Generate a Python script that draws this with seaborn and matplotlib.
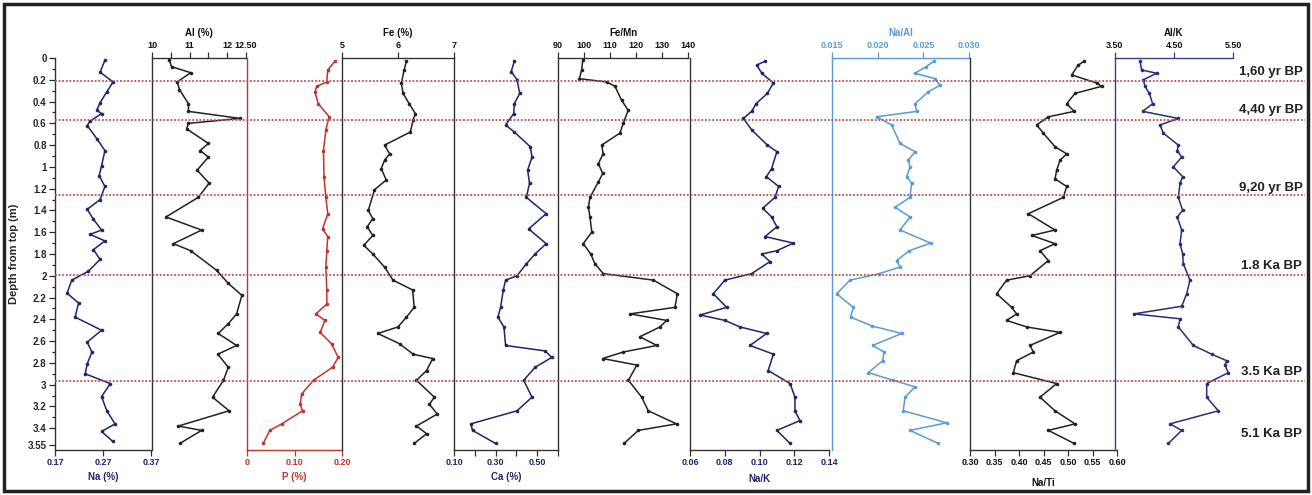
import matplotlib
matplotlib.use("Agg")
import matplotlib.pyplot as plt
from matplotlib.patches import Rectangle
import seaborn as sns

# depth (m) and values
na_depth = [0.02, 0.13, 0.22, 0.31, 0.41, 0.48, 0.51, 0.58, 0.62, 0.74, 0.85, 0.99, 1.08, 1.18, 1.30, 1.39,
            1.48, 1.58, 1.62, 1.68, 1.76, 1.85, 1.96, 2.04, 2.16, 2.25, 2.38, 2.50, 2.61, 2.70, 2.81, 2.90,
            2.99, 3.11, 3.24, 3.36, 3.43, 3.52]
na_pct = [0.274, 0.264, 0.291, 0.278, 0.264, 0.257, 0.267, 0.243, 0.237, 0.257, 0.274, 0.267, 0.262, 0.274,
          0.264, 0.237, 0.250, 0.267, 0.243, 0.274, 0.250, 0.264, 0.239, 0.205, 0.195, 0.219, 0.212, 0.267,
          0.237, 0.247, 0.237, 0.233, 0.285, 0.267, 0.278, 0.295, 0.267, 0.290]

al_depth = [0.02, 0.08, 0.135, 0.22, 0.29, 0.42, 0.49, 0.555, 0.60, 0.65, 0.785, 0.85, 0.91, 1.03, 1.15, 1.28,
            1.46, 1.58, 1.705, 1.77, 1.95, 2.07, 2.18, 2.35, 2.44, 2.53, 2.64, 2.72, 2.84, 2.96, 3.115, 3.24,
            3.38, 3.42, 3.54]
al_pct = [10.46, 10.52, 11.03, 10.67, 10.73, 10.97, 10.97, 12.34, 10.97, 10.92, 11.50, 11.28, 11.50, 11.20,
          11.52, 11.23, 10.37, 11.32, 10.57, 11.03, 11.72, 12.03, 12.39, 12.25, 12.03, 11.76, 12.25, 11.75,
          12.03, 11.90, 11.61, 12.05, 10.70, 11.32, 10.74]

p_depth = [0.03, 0.11, 0.22, 0.26, 0.31, 0.42, 0.54, 0.66, 0.85, 1.09, 1.28, 1.43, 1.57, 1.64, 1.77, 1.92,
           2.13, 2.26, 2.35, 2.41, 2.52, 2.625, 2.75, 2.84, 2.96, 3.085, 3.18, 3.24, 3.36, 3.42, 3.54]
p_pct = [0.185, 0.170, 0.168, 0.147, 0.143, 0.150, 0.173, 0.166, 0.161, 0.162, 0.166, 0.170, 0.159, 0.170,
         0.168, 0.166, 0.168, 0.168, 0.145, 0.164, 0.154, 0.178, 0.192, 0.180, 0.140, 0.115, 0.112, 0.117,
         0.073, 0.048, 0.034]

fe_depth = [0.03, 0.11, 0.23, 0.325, 0.42, 0.51, 0.57, 0.68, 0.80, 0.88, 0.94, 1.015, 1.12, 1.21, 1.40, 1.475,
            1.55, 1.63, 1.72, 1.80, 1.92, 2.04, 2.13, 2.29, 2.38, 2.47, 2.53, 2.625, 2.72, 2.76, 2.87, 2.96,
            3.115, 3.18, 3.27, 3.38, 3.45, 3.54]
fe_pct = [6.15, 6.11, 6.06, 6.09, 6.20, 6.31, 6.27, 6.22, 5.76, 5.85, 5.76, 5.70, 5.79, 5.58, 5.47, 5.55,
          5.45, 5.55, 5.39, 5.55, 5.76, 5.91, 6.26, 6.29, 6.15, 6.00, 5.64, 6.03, 6.27, 6.62, 6.51, 6.33,
          6.65, 6.56, 6.70, 6.33, 6.51, 6.29]

ca_depth = [0.03, 0.125, 0.20, 0.325, 0.42, 0.51, 0.615, 0.68, 0.815, 0.91, 1.03, 1.15, 1.28, 1.43, 1.57,
            1.705, 1.80, 1.89, 2.00, 2.04, 2.13, 2.29, 2.38, 2.47, 2.64, 2.69, 2.75, 2.84, 2.96, 3.115, 3.24,
            3.36, 3.42, 3.54]
ca_pct = [0.390, 0.375, 0.403, 0.416, 0.390, 0.387, 0.348, 0.390, 0.467, 0.475, 0.454, 0.463, 0.448, 0.543,
          0.459, 0.543, 0.490, 0.448, 0.403, 0.348, 0.337, 0.324, 0.311, 0.340, 0.348, 0.538, 0.570, 0.490,
          0.435, 0.475, 0.403, 0.181, 0.189, 0.300]

femn_depth = [0.02, 0.11, 0.19, 0.22, 0.26, 0.39, 0.48, 0.60, 0.69, 0.80, 0.88, 0.97, 1.06, 1.14, 1.28, 1.37,
              1.46, 1.60, 1.705, 1.80, 1.89, 1.98, 2.04, 2.165, 2.29, 2.35, 2.41, 2.47, 2.56, 2.64, 2.70, 2.76,
              2.82, 2.96, 3.115, 3.24, 3.36, 3.42, 3.54]
femn_ratio = [99.5, 99.1, 98.2, 108.7, 111.9, 114.5, 117.0, 115.1, 113.8, 106.8, 107.4, 105.5, 107.2, 105.5,
              102.3, 101.7, 102.3, 103.0, 99.7, 102.6, 104.2, 107.4, 126.7, 135.9, 135.0, 117.7, 131.8, 129.2,
              121.5, 128.0, 115.1, 107.2, 120.3, 117.1, 122.2, 124.7, 135.6, 120.9, 115.4]

nak_depth = [0.03, 0.065, 0.14, 0.23, 0.325, 0.42, 0.49, 0.555, 0.66, 0.80, 0.86, 1.015, 1.09, 1.18, 1.28,
             1.38, 1.46, 1.55, 1.64, 1.70, 1.77, 1.80, 1.87, 1.98, 2.04, 2.165, 2.29, 2.36, 2.41, 2.47, 2.53,
             2.64, 2.72, 2.87, 2.99, 3.115, 3.24, 3.33, 3.42, 3.54]
nak_ratio = [0.1032, 0.0984, 0.1013, 0.1080, 0.1045, 0.0980, 0.0955, 0.0907, 0.0955, 0.1045, 0.1100, 0.1070,
             0.1040, 0.1110, 0.1089, 0.1018, 0.1070, 0.1100, 0.1032, 0.1195, 0.1100, 0.1013, 0.1060, 0.0955,
             0.0801, 0.0734, 0.0811, 0.0658, 0.0801, 0.0888, 0.1041, 0.0945, 0.1080, 0.1050, 0.1176, 0.1204,
             0.1204, 0.1233, 0.1100, 0.1176]

naal_depth = [0.03, 0.08, 0.14, 0.19, 0.25, 0.31, 0.42, 0.49, 0.54, 0.615, 0.785, 0.86, 0.94, 1.00, 1.09, 1.15,
              1.28, 1.37, 1.46, 1.58, 1.70, 1.77, 1.86, 1.92, 1.98, 2.04, 2.165, 2.29, 2.38, 2.46, 2.53, 2.64,
              2.70, 2.78, 2.89, 2.96, 3.02, 3.115, 3.24, 3.35, 3.42, 3.54]
naal_ratio = [0.02617, 0.02529, 0.02409, 0.02628, 0.02683, 0.02555, 0.02409, 0.02427, 0.01989, 0.02153,
              0.02245, 0.02409, 0.02336, 0.02354, 0.02318, 0.02372, 0.02354, 0.02190, 0.02354, 0.02245,
              0.02580, 0.02347, 0.02208, 0.02245, 0.02018, 0.01697, 0.01551, 0.01733, 0.01704, 0.01935,
              0.02263, 0.01945, 0.02069, 0.02055, 0.01898, 0.02171, 0.02409, 0.02300, 0.02280, 0.02756,
              0.02354, 0.02664]

nati_depth = [0.03, 0.065, 0.155, 0.23, 0.26, 0.325, 0.42, 0.49, 0.54, 0.615, 0.69, 0.815, 0.88, 0.94, 1.03,
              1.11, 1.18, 1.28, 1.43, 1.58, 1.63, 1.705, 1.77, 1.86, 2.00, 2.04, 2.165, 2.29, 2.35, 2.41, 2.47,
              2.52, 2.64, 2.70, 2.78, 2.89, 2.99, 3.115, 3.24, 3.36, 3.42, 3.54]
nati_ratio = [0.5327, 0.521, 0.5075, 0.5585, 0.5687, 0.5143, 0.4973, 0.5126, 0.4599, 0.4361, 0.4497, 0.4735,
              0.4973, 0.4837, 0.4769, 0.4735, 0.4973, 0.4905, 0.419, 0.4735, 0.426, 0.4735, 0.4429, 0.4599,
              0.4224, 0.3748, 0.3544, 0.385, 0.3952, 0.3748, 0.4157, 0.4837, 0.4224, 0.4293, 0.3952, 0.3884,
              0.4769, 0.4429, 0.4735, 0.5143, 0.4599, 0.5126]

alk_depth = [0.03, 0.11, 0.14, 0.20, 0.26, 0.325, 0.42, 0.49, 0.555, 0.615, 0.69, 0.80, 0.85, 0.91, 1.00, 1.09,
             1.15, 1.28, 1.40, 1.46, 1.58, 1.705, 1.80, 1.89, 2.04, 2.165, 2.28, 2.35, 2.395, 2.47, 2.64, 2.72,
             2.78, 2.82, 2.89, 2.99, 3.115, 3.24, 3.36, 3.42, 3.54]
alk_ratio = [3.924, 3.952, 4.207, 3.98, 4.008, 4.082, 4.138, 3.969, 4.573, 4.263, 4.319, 4.573, 4.556, 4.63,
             4.488, 4.647, 4.602, 4.573, 4.647, 4.556, 4.63, 4.602, 4.647, 4.658, 4.771, 4.715, 4.63, 3.822,
             4.602, 4.573, 4.828, 5.138, 5.393, 5.364, 5.42, 5.054, 5.054, 5.251, 4.432, 4.63, 4.404]

# horizons and their ages
horizon_depth = [0.21, 0.565, 1.26, 1.99, 2.97]
age_depth = [0.126, 0.478, 1.19, 1.91, 2.886, 3.45]
age_labels = ["1,60 yr BP", "4,40 yr BP", "9,20 yr BP", "1.8 Ka BP", "3.5 Ka BP", "5.1 Ka BP"]

depth_ticks = [0, 0.2, 0.4, 0.6, 0.8, 1, 1.2, 1.4, 1.6, 1.8, 2, 2.2, 2.4, 2.6, 2.8, 3, 3.2, 3.4, 3.55]

sns.set_style("white")
plt.rcParams["font.family"] = ["Liberation Sans", "DejaVu Sans"]

W, H = 1312, 495
TOP, BOT = 58, 450
fig = plt.figure(figsize=(W / 100, H / 100), dpi=100)

NAVY = "#1f2568"
BLUE = "#5b9bd5"
RED = "#c0352e"


def rect(x0, x1):
    return [x0 / W, 1 - BOT / H, (x1 - x0) / W, (BOT - TOP) / H]


def panel(x0, x1, depth, vals, xlim, ticks, labels, minor, title, side,
          line_c="#222222", spine_c="#333333", text_c="#111111", labelpad=3):
    ax = fig.add_axes(rect(x0, x1))
    ax.set_facecolor("none")
    sns.lineplot(x=vals, y=depth, sort=False, estimator=None, color=line_c, lw=1.1,
                 marker="o", markersize=2.6, markeredgewidth=0, mec=line_c, ax=ax)
    ax.set_xlim(*xlim)
    ax.set_ylim(3.6, 0)
    for s in ax.spines.values():
        s.set_visible(False)
    for s in ("left", side):
        ax.spines[s].set_visible(True)
        ax.spines[s].set_color(spine_c)
        ax.spines[s].set_linewidth(1.0)
    ax.set_yticks([])
    ax.set_ylabel("")
    ax.xaxis.set_ticks_position(side)
    ax.xaxis.set_label_position(side)
    ax.set_xticks(ticks)
    ax.set_xticklabels(labels, fontsize=6.5, fontweight="bold", color=text_c)
    ax.set_xticks(minor, minor=True)
    ax.tick_params(axis="x", which="both", direction="out", length=4, width=0.9,
                   color=spine_c, pad=2)
    ax.set_xlabel(title, fontsize=7, fontweight="bold", color=text_c, labelpad=labelpad)
    return ax


ax_na = panel(55, 151, na_depth, na_pct, (0.17, 0.37), [0.17, 0.27, 0.37], ["0.17", "0.27", "0.37"], [],
              "Na (%)", "bottom", line_c=NAVY, text_c=NAVY)
ax_na.set_yticks(depth_ticks)
ax_na.set_yticklabels([f"{t:g}" for t in depth_ticks], fontsize=7, fontweight="bold")
ax_na.set_yticks([t / 10 for t in range(1, 35, 2)], minor=True)
ax_na.tick_params(axis="y", which="both", direction="out", left=True, length=4, width=0.9, pad=2)
ax_na.tick_params(axis="y", which="minor", length=2.5)
ax_na.set_ylabel("Depth from top (m)", fontsize=8, fontweight="bold", labelpad=6)

panel(152, 246, al_depth, al_pct, (10, 12.5), [10, 11, 12, 12.5], ["10", "11", "12", "12.50"], [10.5, 11.5],
      "Al (%)", "top")
panel(247, 342, p_depth, p_pct, (0, 0.2), [0, 0.1, 0.2], ["0", "0.10", "0.20"], [],
      "P (%)", "bottom", line_c=RED, spine_c=RED, text_c=RED)
panel(342, 454, fe_depth, fe_pct, (5, 7), [5, 6, 7], ["5", "6", "7"], [], "Fe (%)", "top")
panel(454, 558, ca_depth, ca_pct, (0.1, 0.6), [0.1, 0.3, 0.5], ["0.10", "0.30", "0.50"], [0.2, 0.4, 0.6],
      "Ca (%)", "bottom", line_c=NAVY, text_c=NAVY)
panel(558, 688, femn_depth, femn_ratio, (90, 140), [90, 100, 110, 120, 130, 140],
      ["90", "100", "110", "120", "130", "140"], [], "Fe/Mn", "top")
panel(690, 829, nak_depth, nak_ratio, (0.06, 0.14), [0.06, 0.08, 0.10, 0.12, 0.14],
      ["0.06", "0.08", "0.10", "0.12", "0.14"], [], "Na/K", "bottom", line_c=NAVY, text_c=NAVY, labelpad=5)
panel(832, 969, naal_depth, naal_ratio, (0.015, 0.030), [0.015, 0.020, 0.025, 0.030],
      ["0.015", "0.020", "0.025", "0.030"], [], "Na/Al", "top", line_c=BLUE, spine_c=BLUE, text_c=BLUE)
panel(970, 1117, nati_depth, nati_ratio, (0.30, 0.60), [0.30, 0.35, 0.40, 0.45, 0.50, 0.55, 0.60],
      ["0.30", "0.35", "0.40", "0.45", "0.50", "0.55", "0.60"], [], "Na/Ti", "bottom", labelpad=8)
panel(1115, 1233, alk_depth, alk_ratio, (3.5, 5.5), [3.5, 4.5, 5.5], ["3.50", "4.50", "5.50"], [],
      "Al/K", "top", line_c="#2a2e7a", spine_c="#3a3e8a")

# horizon lines and age labels across the whole profile
ax_h = fig.add_axes(rect(55, 1305))
ax_h.set_xlim(0, 1)
ax_h.set_ylim(3.6, 0)
ax_h.axis("off")
ax_h.hlines(horizon_depth, 0, 1, colors="#c0504d", linestyles=(0, (1, 1)), lw=1.3, zorder=5)
for d, lab in zip(age_depth, age_labels):
    ax_h.text(0.973, d, lab, ha="center", va="center", fontsize=9.5, fontweight="bold", color="#222222")

fig.patches.append(Rectangle((4 / W, 4 / H), 1304 / W, 487 / H, transform=fig.transFigure,
                             fill=False, edgecolor="#222222", lw=2.5))

fig.savefig("out.png", dpi=100)
